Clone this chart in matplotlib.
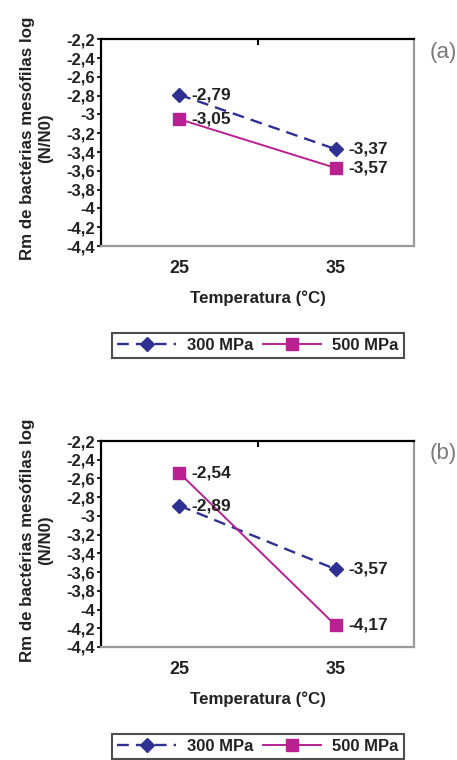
import matplotlib.pyplot as plt
from matplotlib.ticker import FixedLocator, FuncFormatter

plt.rcParams['font.family'] = ['Liberation Sans', 'DejaVu Sans']

# dados
temperaturas = ['25', '35']
a_300 = [-2.79, -3.37]
a_500 = [-3.05, -3.57]
b_300 = [-2.89, -3.57]
b_500 = [-2.54, -4.17]
yticks = [-2.2, -2.4, -2.6, -2.8, -3.0, -3.2, -3.4, -3.6, -3.8, -4.0, -4.2, -4.4]

azul = '#2e3192'
magenta = '#b8218f'

fig = plt.figure(figsize=(4.57, 7.6), dpi=100)


def virgula(v, pos=None):
    return ('%g' % round(v, 2)).replace('.', ',')


def painel(rect, s300, s500, letra, leg_y):
    ax = fig.add_axes(rect)
    x = list(range(len(temperaturas)))
    l1, = ax.plot(x, s300, color=azul, lw=1.7, ls=(0, (5, 3)), marker='D',
                  markersize=7, label='300 MPa')
    l2, = ax.plot(x, s500, color=magenta, lw=1.4, marker='s',
                  markersize=9, label='500 MPa')
    for xi, v in zip(x, s300):
        ax.annotate(virgula(v), (xi, v), xytext=(9, 0), textcoords='offset points',
                    ha='left', va='center', fontsize=12.5, fontweight='bold', color='#222222')
    for xi, v in zip(x, s500):
        ax.annotate(virgula(v), (xi, v), xytext=(9, 0), textcoords='offset points',
                    ha='left', va='center', fontsize=12.5, fontweight='bold', color='#222222')

    ax.set_xlim(-0.5, 1.5)
    ax.set_ylim(-4.4, -2.2)
    ax.yaxis.set_major_locator(FixedLocator(yticks))
    ax.yaxis.set_major_formatter(FuncFormatter(virgula))
    ax.set_xticks(x)
    ax.set_xticklabels(temperaturas)
    ax.xaxis.set_minor_locator(FixedLocator([0.5]))
    ax.tick_params(axis='x', which='major', length=0, pad=10, labelsize=13)
    ax.tick_params(axis='x', which='minor', top=True, bottom=False, direction='in',
                   length=4, width=1.5)
    ax.tick_params(axis='y', length=3, width=1.2, pad=1.5, labelsize=12)
    for t in ax.get_xticklabels() + ax.get_yticklabels():
        t.set_fontweight('bold')
        t.set_color('#222222')

    ax.spines['left'].set_color('black')
    ax.spines['top'].set_color('black')
    ax.spines['right'].set_color('#9a9a9a')
    ax.spines['bottom'].set_color('#9a9a9a')
    for s in ax.spines.values():
        s.set_linewidth(1.6)

    ax.set_xlabel('Temperatura (°C)', fontsize=12.2, fontweight='bold', color='#222222')
    ax.xaxis.set_label_coords(0.5, -0.215)
    ax.set_ylabel('Rm de bactérias mesófilas log\n(N/N0)', fontsize=12.2,
                  fontweight='bold', color='#222222', linespacing=1.3)
    ax.yaxis.set_label_coords(-0.153, 0.52)

    fig.text(0.97, rect[1] + rect[3] - 0.017, letra, fontsize=16, color='#7a7a7a',
             ha='center', va='center')

    leg = fig.legend(handles=[l1, l2], loc='center', bbox_to_anchor=(0.5646, leg_y),
                     ncol=2, fontsize=12, frameon=True, fancybox=False,
                     handlelength=3.5, columnspacing=0.6, handletextpad=0.65,
                     borderpad=0.3, borderaxespad=0, edgecolor='#222222')
    leg.get_frame().set_linewidth(1.5)
    for t in leg.get_texts():
        t.set_fontweight('bold')
        t.set_color('#222222')
    return ax


painel([0.221, 0.6763, 0.685, 0.272], a_300, a_500, '(a)', 0.546)
painel([0.221, 0.1487, 0.685, 0.271], b_300, b_500, '(b)', 0.018)

plt.savefig('out.png', dpi=100)
